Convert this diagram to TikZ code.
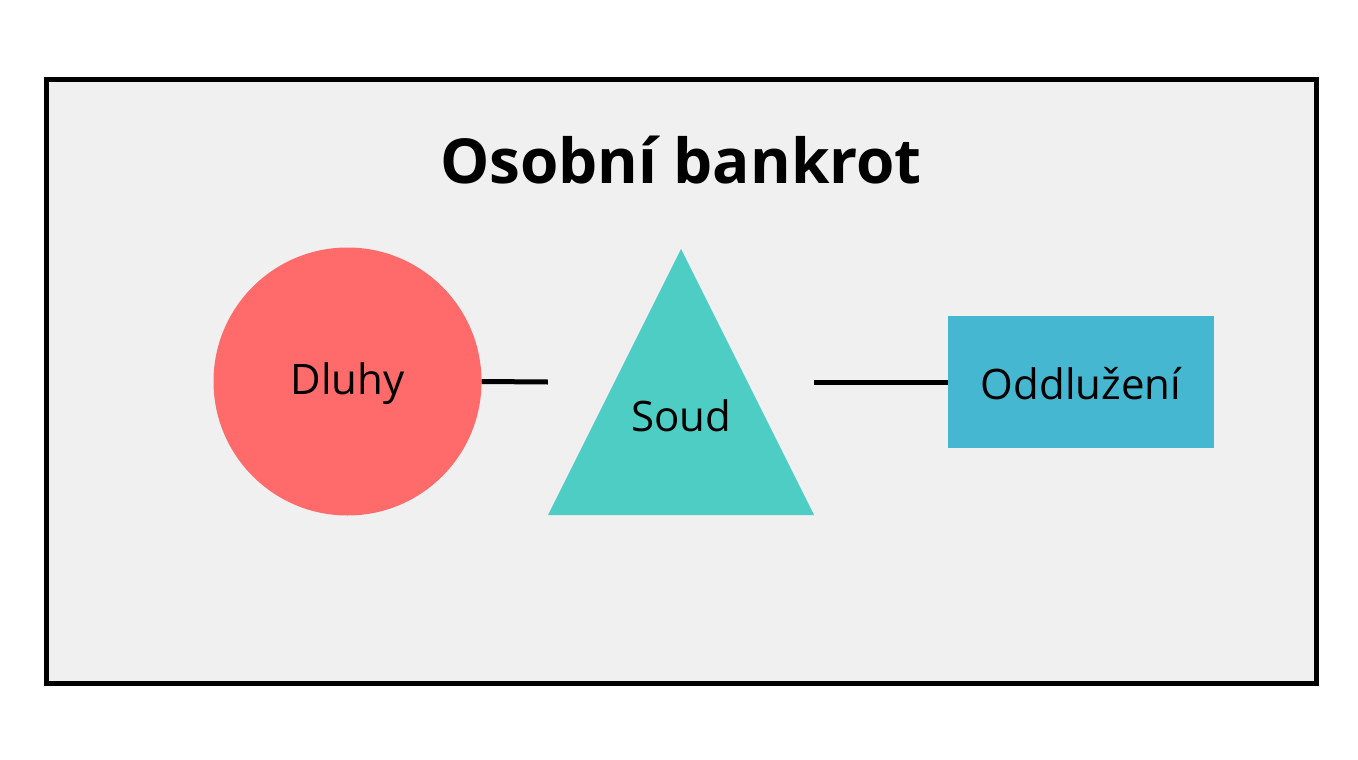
\documentclass[tikz,border=0pt]{standalone}
\usepackage{fontspec}
\setmainfont{Open Sans}
\definecolor{panel}{HTML}{F0F0F0}
\definecolor{cred}{HTML}{FF6B6B}
\definecolor{cteal}{HTML}{4ECDC4}
\definecolor{cblue}{HTML}{45B7D1}
\begin{document}
\begin{tikzpicture}[x=1pt,y=-1pt,
  lbl/.style={font=\fontsize{42}{50}\selectfont, text=black},
  conn/.style={line width=5pt, black}]
\useasboundingbox (0,0) rectangle (1358,760);
\fill[white] (0,0) rectangle (1358,760);
\draw[line width=5pt, fill=panel] (46,80) rectangle (1316,683);
\node[font=\fontsize{62}{70}\selectfont\bfseries] (title) at (681,160) {Osobní bankrot};
\node[circle, fill=cred, minimum size=268pt, inner sep=0pt] (dluhy) at (347.5,381.5) {};
\node[lbl] at (347.5,384) {Dluhy};
\fill[cteal] (681,249) -- (814,515) -- (548,515) -- cycle;
\node[rectangle, minimum width=266pt, minimum height=266pt, inner sep=0pt] (soud) at (681,382) {};
\node[lbl] at (681,416) {Soud};
\node[rectangle, fill=cblue, minimum width=266pt, minimum height=132pt, inner sep=0pt] (odd) at (1081,382) {};
\node[lbl] at (1081,384) {Oddlužení};
\draw[conn] (dluhy.east) -- (soud.west);
\draw[conn] (soud.east) -- (odd.west);
\end{tikzpicture}
\end{document}
